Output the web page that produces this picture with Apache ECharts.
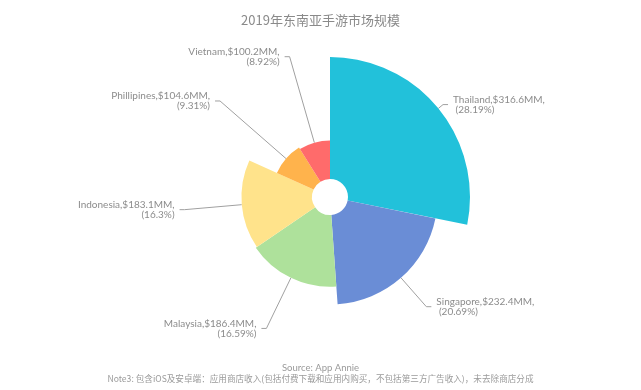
<!DOCTYPE html>
<html>
<head>
<meta charset="utf-8">
<script src="https://cdn.jsdelivr.net/npm/echarts@6/dist/echarts.min.js"></script>
<style>html,body{margin:0;padding:0;background:#fff;}#c{width:641px;height:390px;}</style>
</head>
<body>
<div id="c"></div>
<script>
const categories = ['Thailand', 'Singapore', 'Malaysia', 'Indonesia', 'Phillipines', 'Vietnam'];
const values = [316.6, 232.4, 186.4, 183.1, 104.6, 100.2];
const colors = ['#22C1DA', '#6A8DD6', '#AEE19B', '#FFE38B', '#FFB34C', '#FF6B6B'];
const titleText = '2019年东南亚手游市场规模';
const sourceText = 'Source: App Annie';
const noteText = 'Note3: 包含iOS及安卓端：应用商店收入(包括付费下载和应用内购买，不包括第三方广告收入)，未去除商店分成';

const chart = echarts.init(document.getElementById('c'));
const font = 'Lato, "Noto Sans CJK SC", sans-serif';
chart.setOption({
  animation: false,
  title: [
    { text: titleText, left: 'center', top: 9,
      textStyle: { fontSize: 13, fontWeight: 'normal', color: '#8a8a8a', fontFamily: '"Noto Sans CJK SC", sans-serif' } },
    { text: sourceText, left: 'center', top: 358,
      textStyle: { fontSize: 9.5, fontWeight: 'normal', color: '#9a9a9a', fontFamily: font } },
    { text: noteText, left: 'center', top: 369,
      textStyle: { fontSize: 8.6, fontWeight: 'normal', color: '#9a9a9a', fontFamily: '"Noto Sans CJK SC", sans-serif' } }
  ],
  series: [{
    type: 'pie',
    roseType: 'radius',
    center: [330, 197],
    radius: [18, 140],
    startAngle: 90,
    clockwise: true,
    avoidLabelOverlap: false,
    data: categories.map((c, i) => ({ name: c, value: values[i], itemStyle: { color: colors[i] } })),
    label: {
      show: true,
      formatter: '{b},${c}MM,\n ({d}%)',
      color: '#8c8c8c',
      fontSize: 10,
      lineHeight: 10,
      fontFamily: font
    },
    labelLine: {
      show: true,
      length: 6,
      length2: 5,
      smooth: false,
      lineStyle: { color: '#a0a0a0', width: 1 }
    }
  }]
});
</script>
</body>
</html>
